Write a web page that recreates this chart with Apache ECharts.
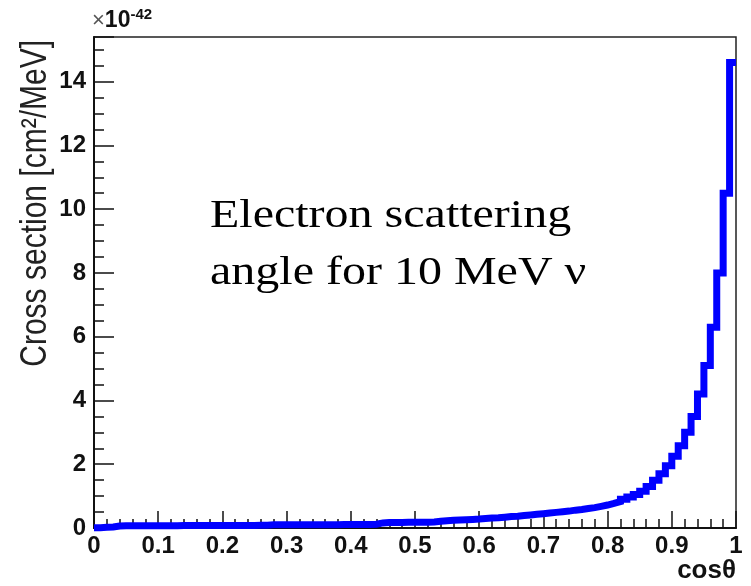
<!DOCTYPE html>
<html>
<head>
<meta charset="utf-8">
<script src="https://cdn.jsdelivr.net/npm/echarts@6/dist/echarts.min.js"></script>
<style>
    html, body { margin: 0; padding: 0; background: #fff; }
    #chart { width: 751px; height: 586px; }
</style>
</head>
<body>
<div id="chart"></div>
<script>
// 直方图的 bin 下边界 (cosθ 从 0 到 1, 每格 0.01)
var binEdges = [];
for (var k = 0; k <= 100; k++) {
    binEdges.push(k / 100);
}
// 每个 bin 的截面值 (单位 1e-42 cm2/MeV)
var crossSection = [
    0.01, 0.02, 0.03, 0.06, 0.07, 0.07, 0.07, 0.07, 0.07, 0.07,
    0.07, 0.07, 0.07, 0.08, 0.08, 0.08, 0.08, 0.08, 0.08, 0.08,
    0.08, 0.08, 0.08, 0.08, 0.08, 0.09, 0.09, 0.10, 0.10, 0.10,
    0.10, 0.10, 0.10, 0.10, 0.10, 0.10, 0.10, 0.10, 0.11, 0.11,
    0.11, 0.11, 0.11, 0.12, 0.16, 0.17, 0.17, 0.17, 0.18, 0.18,
    0.18, 0.18, 0.19, 0.21, 0.23, 0.24, 0.25, 0.26, 0.27, 0.28,
    0.30, 0.31, 0.32, 0.34, 0.36, 0.37, 0.39, 0.41, 0.43, 0.45,
    0.47, 0.49, 0.51, 0.53, 0.56, 0.58, 0.61, 0.64, 0.68, 0.72,
    0.77, 0.83, 0.90, 0.97, 1.05, 1.15, 1.30, 1.50, 1.70, 1.95,
    2.25, 2.58, 3.00, 3.50, 4.20, 5.10, 6.30, 8.00, 10.50, 14.60
];
var xTicks = [0, 0.1, 0.2, 0.3, 0.4, 0.5, 0.6, 0.7, 0.8, 0.9, 1];
var yTicks = [0, 2, 4, 6, 8, 10, 12, 14];
var yTitle = 'Cross section [cm\u00b2/MeV]';
var xTitle = 'cos\u03b8';
var noteLines = ['Electron scattering', 'angle for 10 MeV \u03bd'];

// 阶梯线数据: 每个 bin 左边界 + 最后一个右边界
var stepData = [];
for (var i = 0; i < crossSection.length; i++) {
    stepData.push([binEdges[i], crossSection[i]]);
}
stepData.push([binEdges[100], crossSection[crossSection.length - 1]]);

var chart = echarts.init(document.getElementById('chart'));
var labelFont = {
    color: '#111',
    fontFamily: 'Liberation Sans',
    fontWeight: 'bold',
    fontSize: 24
};

var option = {
    animation: false,
    backgroundColor: '#fff',
    grid: {
        left: 94,
        right: 15,
        top: 37,
        bottom: 58,
        containLabel: false,
        outerBoundsMode: 'none',
        show: true,
        borderColor: '#222',
        borderWidth: 1.5,
        backgroundColor: 'transparent'
    },
    xAxis: {
        type: 'value',
        min: 0,
        max: 1,
        interval: 0.1,
        name: xTitle,
        nameLocation: 'end',
        nameGap: 0,
        nameTextStyle: {
            color: '#111',
            fontFamily: 'Liberation Sans',
            fontWeight: 'bold',
            fontSize: 26,
            align: 'right',
            verticalAlign: 'top',
            padding: [30, 0, 0, 0]
        },
        axisLine: { show: true, onZero: false, lineStyle: { color: '#111', width: 2 } },
        axisTick: { show: true, inside: true, length: 17, lineStyle: { color: '#111', width: 1.5 } },
        minorTick: { show: true, splitNumber: 5, length: 9, lineStyle: { color: '#111', width: 1.5 } },
        splitLine: { show: false },
        axisLabel: {
            margin: 6,
            color: labelFont.color,
            fontFamily: labelFont.fontFamily,
            fontWeight: labelFont.fontWeight,
            fontSize: labelFont.fontSize,
            formatter: function (v) {
                var idx = xTicks.indexOf(Math.round(v * 10) / 10);
                return idx >= 0 ? String(xTicks[idx]) : '';
            }
        }
    },
    yAxis: {
        type: 'value',
        min: 0,
        max: 15.4,
        interval: 2,
        axisLine: { show: true, onZero: false, lineStyle: { color: '#111', width: 2 } },
        axisTick: { show: true, inside: true, length: 20, lineStyle: { color: '#111', width: 1.5 } },
        minorTick: { show: true, splitNumber: 4, length: 10, lineStyle: { color: '#111', width: 1.5 } },
        splitLine: { show: false },
        axisLabel: {
            margin: 8,
            showMaxLabel: false,
            color: labelFont.color,
            fontFamily: labelFont.fontFamily,
            fontWeight: labelFont.fontWeight,
            fontSize: labelFont.fontSize,
            formatter: function (v) {
                return yTicks.indexOf(v) >= 0 ? String(v) : '';
            }
        }
    },
    graphic: [
        {
            // y 轴标题, 旋转后右对齐到轴顶端 (原图横向拉伸, 所以字高放大)
            type: 'text',
            x: 36,
            y: 40,
            rotation: Math.PI / 2,
            scaleY: 1.2,
            style: {
                text: yTitle,
                fill: '#222',
                font: '30px "Liberation Sans"',
                align: 'right',
                verticalAlign: 'middle'
            }
        },
        {
            // 量级 ×10^-42
            type: 'text',
            x: 92,
            y: 34,
            style: {
                text: '{a|\u00d7}{b|10}{c|-42}',
                verticalAlign: 'bottom',
                rich: {
                    a: { fill: '#555', font: '22px "Liberation Sans"' },
                    b: { fill: '#111', font: 'bold 23px "Liberation Sans"' },
                    c: { fill: '#111', font: 'bold 15px "Liberation Sans"', verticalAlign: 'top', padding: [0, 0, 12, 0] }
                }
            }
        },
        {
            type: 'text',
            x: 210,
            y: 188,
            scaleX: 1.2,
            style: {
                text: noteLines.join('\n'),
                fill: '#000',
                font: '40px "Liberation Serif"',
                lineHeight: 57
            }
        }
    ],
    series: [
        {
            type: 'line',
            step: 'end',
            data: stepData,
            showSymbol: false,
            clip: false,
            lineStyle: { color: '#0000ff', width: 7, cap: 'butt', join: 'miter' }
        }
    ]
};
chart.setOption(option);
</script>
</body>
</html>
